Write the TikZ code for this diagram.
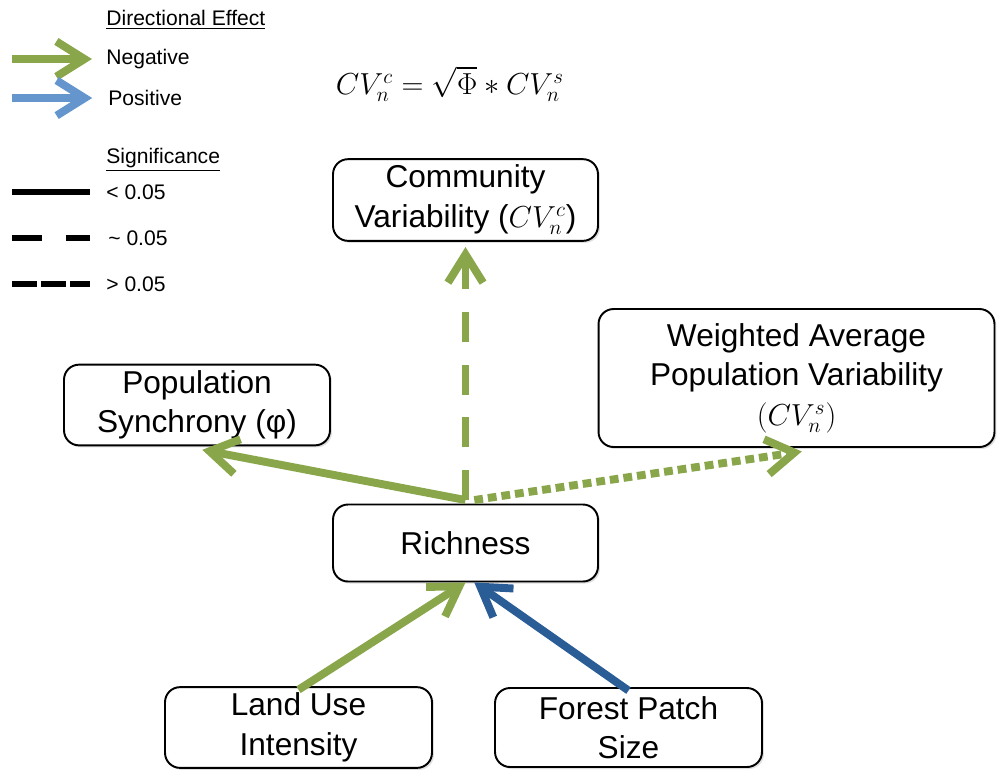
\documentclass[tikz,border=0pt]{standalone}
\usepackage{fontspec}
\setmainfont{Liberation Sans}
\usepackage{amsmath}
\usetikzlibrary{arrows.meta,shadows}
\definecolor{olive}{RGB}{137,166,75}
\definecolor{darkblue}{RGB}{42,92,150}
\definecolor{lightblue}{RGB}{100,150,205}
\tikzset{> = {Straight Barb[length=16pt,width=20pt]},
	box/.style={draw,line width=1.1pt,rounded corners=.3cm,align=center,fill=white,
		font=\fontsize{18}{22.5}\selectfont,
		drop shadow={opacity=.25,shadow xshift=.4mm,shadow yshift=-.4mm}},
	effect/.style={line width=4.5pt},
	weak/.style={effect,dash pattern=on 17pt off 13pt},
	nonsig/.style={effect,dash pattern=on 5pt off 2.8pt},
	key/.style={anchor=west,inner xsep=0pt,font=\fontsize{12}{14}\selectfont},
	keyline/.style={line width=3.4pt}}

\begin{document}
\begin{tikzpicture}[x=0.02cm,y=-0.02cm]
	\useasboundingbox (0,0) rectangle (997,772);
	\node[box,minimum width=5.3cm,minimum height=1.6cm] (comm) at (465.5,200) {Community\\Variability ($CV_n^c$)};
	\node[box,minimum width=5.32cm,minimum height=1.56cm] (sync) at (197,405) {Population\\Synchrony (φ)};
	\node[box,minimum width=7.92cm,minimum height=2.76cm] (wavg) at (796.5,378) {Weighted Average\\Population Variability\\$(CV_n^s)$};
	\node[box,minimum width=5.3cm,minimum height=1.54cm] (rich) at (465.5,543) {Richness};
	\node[box,minimum width=5.34cm,minimum height=1.58cm] (land) at (298.5,727.5) {Land Use\\Intensity};
	\node[box,minimum width=5.34cm,minimum height=1.58cm] (patch) at (628.5,727.5) {Forest Patch\\Size};

	\draw[->,weak,olive] ([yshift=2]rich.north) -- ([yshift=-3]comm.south);
	\draw[->,effect,olive] ([yshift=2]rich.north) -- ([xshift=3,yshift=-2]sync.south);
	\draw[->,nonsig,olive] ([xshift=5,yshift=2]rich.north) -- ([xshift=3,yshift=-2]wavg.south);
	\draw[->,effect,olive] ([yshift=-2]land.north) -- (rich.south);
	\draw[->,effect,darkblue] ([yshift=-2]patch.north) -- ([xshift=5]rich.south);

	\node (eq) at (450,84) {\fontsize{17.5}{20}\selectfont$CV_n^c = \sqrt{\Phi} * CV_n^s$};

	\node[key] (dir) at (106,20) {\underline{Directional Effect}};
	\node[key] (neg) at (106,59) {Negative};
	\node[key] (pos) at (108,98) {Positive};
	\coordinate (negL) at (12,59);
	\coordinate (posL) at (12,98);
	\draw[->,effect,olive] (negL) -- ([xshift=-8pt]neg.west);
	\draw[->,effect,lightblue] (posL) -- ([xshift=-9pt]pos.west);

	\node[key] (sig) at (106,160) {\underline{Significance}};
	\node[key] (lt) at (106,192) {< 0.05};
	\node[key] (ap) at (108,238) {\textasciitilde{} 0.05};
	\node[key] (gt) at (106,284) {> 0.05};
	\coordinate (ltL) at (12,192);
	\coordinate (apL) at (12,238);
	\coordinate (gtL) at (12,284);
	\draw[keyline] (ltL) -- ([xshift=-9pt]lt.west);
	\draw[keyline,dash pattern=on 17pt off 13.6pt] (apL) -- ([xshift=-10pt]ap.west);
	\draw[keyline,dash pattern=on 14pt off 2.5pt] (gtL) -- ([xshift=-9pt]gt.west);
\end{tikzpicture}
\end{document}
